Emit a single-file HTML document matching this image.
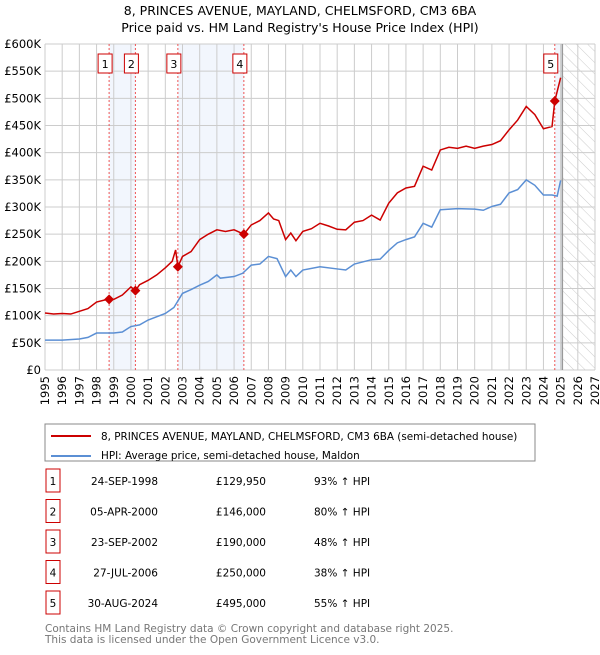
<!DOCTYPE html>
<html><head><meta charset="utf-8"><style>
body{margin:0;background:#fff;font-family:"Liberation Sans","DejaVu Sans",sans-serif;}
svg text{font-family:"DejaVu Sans","Liberation Sans",sans-serif;}
</style></head><body>
<svg id="c" width="600" height="650" xmlns="http://www.w3.org/2000/svg">
<defs><pattern id="hatch" width="8" height="8" patternUnits="userSpaceOnUse" patternTransform="rotate(-45)"><line x1="0" y1="0" x2="0" y2="8" stroke="#ccc" stroke-width="1"/></pattern></defs>
<text x="300" y="15" font-size="12.5" text-anchor="middle">8, PRINCES AVENUE, MAYLAND, CHELMSFORD, CM3 6BA</text>
<text x="300" y="32" font-size="12.5" text-anchor="middle">Price paid vs. HM Land Registry's House Price Index (HPI)</text>
<g id="plot"></g>
<rect x="45" y="424" width="490" height="37" fill="#fff" stroke="#888"/>
<line x1="51" y1="436" x2="91" y2="436" stroke="#cc0000" stroke-width="2"/>
<text x="101" y="440" font-size="10.4">8, PRINCES AVENUE, MAYLAND, CHELMSFORD, CM3 6BA (semi-detached house)</text>
<line x1="51" y1="456" x2="91" y2="456" stroke="#5b8fd4" stroke-width="2"/>
<text x="101" y="459" font-size="10.4">HPI: Average price, semi-detached house, Maldon</text>
<g id="tbl"></g>
<text x="45" y="632" font-size="10.5" fill="#777">Contains HM Land Registry data © Crown copyright and database right 2025.</text>
<text x="45" y="643" font-size="10.5" fill="#777">This data is licensed under the Open Government Licence v3.0.</text>
</svg>
<script>
const yTicks=[0,50,100,150,200,250,300,350,400,450,500,550,600];
const yTickLabels=["£0","£50K","£100K","£150K","£200K","£250K","£300K","£350K","£400K","£450K","£500K","£550K","£600K"];
const years=[1995,1996,1997,1998,1999,2000,2001,2002,2003,2004,2005,2006,2007,2008,2009,2010,2011,2012,2013,2014,2015,2016,2017,2018,2019,2020,2021,2022,2023,2024,2025,2026,2027];
const redT=[1995,1995.5,1996,1996.5,1997,1997.5,1998,1998.5,1998.73,1999,1999.5,2000,2000.26,2000.5,2001,2001.5,2002,2002.4,2002.6,2002.73,2003,2003.5,2004,2004.5,2005,2005.5,2006,2006.57,2007,2007.5,2008,2008.3,2008.6,2009,2009.3,2009.6,2010,2010.5,2011,2011.5,2012,2012.5,2013,2013.5,2014,2014.5,2015,2015.5,2016,2016.5,2017,2017.5,2018,2018.5,2019,2019.5,2020,2020.5,2021,2021.5,2022,2022.5,2023,2023.5,2024,2024.5,2024.66,2025];
const redV=[105,103,104,103,108,113,125,129,130,130,138,153,146,157,165,175,188,200,221,190,209,218,240,250,258,255,258,250,267,275,289,278,275,240,252,238,255,260,270,265,259,258,272,275,285,276,307,326,335,338,375,368,405,410,408,412,408,412,415,422,442,460,485,470,444,448,495,538];
const blueT=[1995,1996,1997,1997.5,1998,1999,1999.5,2000,2000.5,2001,2002,2002.5,2003,2003.5,2004,2004.5,2005,2005.2,2006,2006.5,2007,2007.5,2008,2008.5,2009,2009.3,2009.6,2010,2011,2012,2012.5,2013,2014,2014.5,2015,2015.5,2016,2016.5,2017,2017.5,2018,2019,2020,2020.5,2021,2021.5,2022,2022.5,2023,2023.5,2024,2024.5,2024.8,2025];
const blueV=[55,55,57,60,68,68,70,80,83,92,104,115,141,148,156,163,175,169,172,178,193,195,209,205,172,184,172,184,190,186,184,195,203,204,220,234,240,245,270,263,295,297,296,294,301,305,326,332,350,340,322,322,320,349];
const saleT=[1998.73,2000.26,2002.73,2006.57,2024.66];
const saleV=[129.95,146,190,250,495];
const saleDates=["24-SEP-1998","05-APR-2000","23-SEP-2002","27-JUL-2006","30-AUG-2024"];
const salePrices=["£129,950","£146,000","£190,000","£250,000","£495,000"];
const saleHpi=["93% ↑ HPI","80% ↑ HPI","48% ↑ HPI","38% ↑ HPI","55% ↑ HPI"];
const NS="http://www.w3.org/2000/svg";
const X0=45,X1=595,Y0=370,Y1=44;
const xs=t=>X0+(t-1995)/32*(X1-X0);
const ys=v=>Y0-v/600*(Y0-Y1);
const plot=document.getElementById('plot');
function mk(tag,attrs,parent){const e=document.createElementNS(NS,tag);for(const k in attrs)e.setAttribute(k,attrs[k]);(parent||plot).appendChild(e);return e;}
[[0,1],[2,3]].forEach(p=>{const r=mk('rect',{x:xs(saleT[p[0]]),y:Y1,width:xs(saleT[p[1]])-xs(saleT[p[0]]),height:Y0-Y1,fill:'#f2f6fd'});

});
const r5=mk('rect',{x:xs(saleT[4]),y:Y1,width:xs(2025.1)-xs(saleT[4]),height:Y0-Y1,fill:'#f2f6fd'});


const hz=mk('rect',{x:xs(2025.1),y:Y1,width:X1-xs(2025.1),height:Y0-Y1,fill:'url(#hatch)'});


years.forEach(y=>{const l=mk('line',{x1:xs(y),x2:xs(y),y1:Y1,y2:Y0,stroke:'#ccc'});


const t=mk('text',{x:0,y:0,'font-size':11.5,'text-anchor':'end',transform:`translate(${xs(y)+4},${Y0+6}) rotate(-90)`});t.textContent=y;

});
yTicks.forEach((v,i)=>{const l=mk('line',{x1:X0,x2:X1,y1:ys(v),y2:ys(v),stroke:'#ccc'});


const t=mk('text',{x:41,y:ys(v)+4,'font-size':11.5,'text-anchor':'end'});t.textContent=yTickLabels[i];

});
const bd=mk('line',{x1:xs(2025.1),x2:xs(2025.1),y1:Y1,y2:Y0,stroke:'#999','stroke-width':1.5});


saleT.forEach((t,i)=>{const l=mk('line',{x1:xs(t),x2:xs(t),y1:Y1,y2:Y0,stroke:'#ee5555','stroke-dasharray':'2,2'});


const b=mk('rect',{x:xs(t)-11,y:54,width:14,height:19,fill:'#fff',stroke:'#cc0000'});


const tx=mk('text',{x:xs(t)-4,y:68,'font-size':11,'text-anchor':'middle'});tx.textContent=i+1;

});
const pb=mk('polyline',{points:blueT.map((t,i)=>xs(t)+','+ys(blueV[i])).join(' '),fill:'none',stroke:'#5b8fd4','stroke-width':1.5});


const pr=mk('polyline',{points:redT.map((t,i)=>xs(t)+','+ys(redV[i])).join(' '),fill:'none',stroke:'#cc0000','stroke-width':1.5});


saleT.forEach((t,i)=>{const x=xs(t),y=ys(saleV[i]);const d=mk('polygon',{points:`${x},${y-5} ${x+5},${y} ${x},${y+5} ${x-5},${y}`,fill:'#cc0000'});

});
const tbl=document.getElementById('tbl');
saleDates.forEach((d,i)=>{const y=482+i*30.5;
const b=mk('rect',{x:46,y:y-13,width:14,height:23,fill:'#fff',stroke:'#cc0000'},tbl);


const n=mk('text',{x:53,y:y+3,'font-size':10.5,'text-anchor':'middle'},tbl);n.textContent=i+1;


const a=mk('text',{x:158,y:y+3,'font-size':10.5,'text-anchor':'end'},tbl);a.textContent=d;


const p=mk('text',{x:266,y:y+3,'font-size':10.5,'text-anchor':'end'},tbl);p.textContent=salePrices[i];


const h=mk('text',{x:314,y:y+3,'font-size':10.5},tbl);h.textContent=saleHpi[i];

});
</script>
</body></html>
